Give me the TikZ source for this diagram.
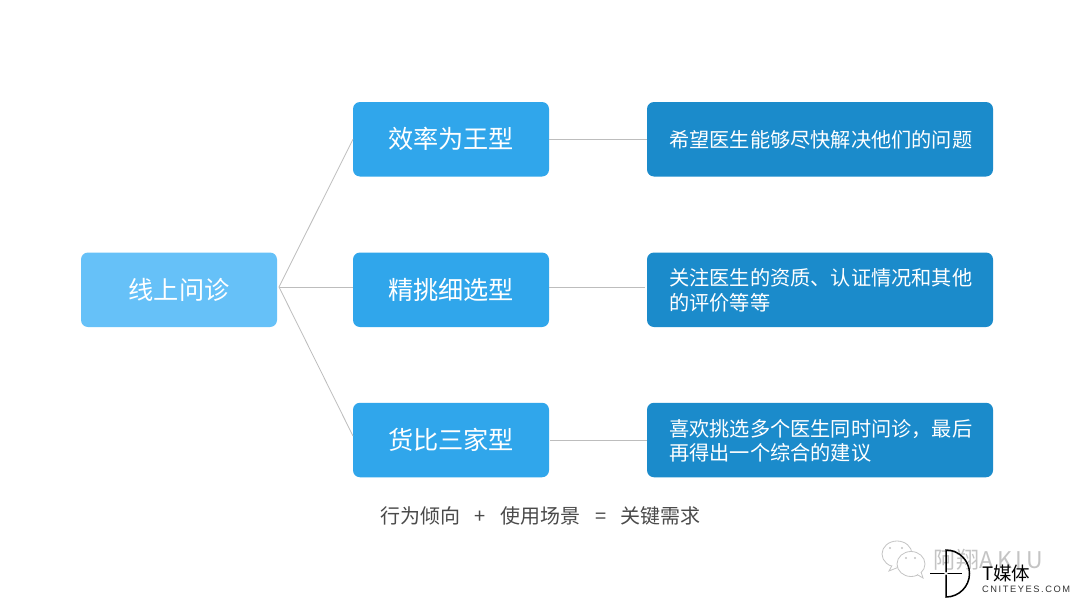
\documentclass[tikz,border=0pt]{standalone}
\usepackage{fontspec}
\setmainfont{Noto Sans CJK SC}
\newfontfamily\latinwm{Liberation Sans}
\definecolor{rootblue}{HTML}{66C1F8}
\definecolor{midblue}{HTML}{30A6EB}
\definecolor{deepblue}{HTML}{1B8BCB}
\definecolor{linegray}{HTML}{BDBDBD}
\definecolor{captiontext}{HTML}{4A4A4A}
\definecolor{wmgray}{HTML}{C4C4C4}
\tikzset{
  x=1pt,y=-1pt,
  box/.style={rounded corners=7pt,inner sep=0pt,outer sep=0pt,text=white},
  rootbox/.style={box,fill=rootblue,minimum width=196pt,minimum height=74.5pt,font=\fontsize{25.2}{25}\selectfont},
  midbox/.style={box,fill=midblue,minimum width=196pt,minimum height=74.5pt,font=\fontsize{25.2}{25}\selectfont},
  deepbox/.style={box,fill=deepblue,minimum width=346pt,minimum height=74.5pt},
  bodytext/.style={text=white,inner sep=0pt,anchor=west,align=left,font=\fontsize{20.2}{24.5}\selectfont},
  link/.style={draw=linegray,line width=0.8pt},
  bubble/.style={draw=wmgray,line width=0.8pt,fill=white},
}
\begin{document}
\begin{tikzpicture}
\useasboundingbox (0,0) rectangle (1080,608);
\fill[white] (0,0) rectangle (1080,608);
\coordinate (hub) at (279,287);
\node[rootbox] (root) at (179,289.75) {\raisebox{-0.7pt}{线上问诊}};
\node[midbox] (m1) at (451,139.25) {\raisebox{-0.7pt}{效率为王型}};
\node[midbox] (m2) at (451,289.75) {\raisebox{-0.7pt}{精挑细选型}};
\node[midbox] (m3) at (451,440) {\raisebox{-0.7pt}{货比三家型}};
\node[deepbox] (r1) at (820,139.25) {};
\node[deepbox] (r2) at (820,289.75) {};
\node[deepbox] (r3) at (820,440) {};
\node[bodytext] (t1) at (669,140) {希望医生能够尽快解决他们的问题};
\node[bodytext] (t2) at (669,290.5) {关注医生的资质、认证情况和其他\\的评价等等};
\node[bodytext] (t3) at (669,440.75) {喜欢挑选多个医生同时问诊，最后\\再得出一个综合的建议};
\draw[link] (hub) -- (m1.west);
\draw[link] (hub) -- (m2.west |- hub);
\draw[link] (hub) -- ([yshift=4pt]m3.west);
\draw[link] (m1.east) -- (r1.west);
\draw[link,shorten >=2pt] (m2.east |- hub) -- (r2.west |- hub);
\draw[link,shorten <=1pt] (m3.east) -- (r3.west);
\node[text=captiontext,inner sep=0pt,anchor=west,font=\fontsize{20}{20}\selectfont] (cap) at (380,516) {行为倾向\hspace{14.6pt}+\hspace{14.6pt}使用场景\hspace{14.6pt}=\hspace{14.6pt}关键需求};
% watermark
\draw[bubble] (897,554) ellipse (15 and 13);
\draw[bubble] (892,565.5) -- (889,571) -- (899,567);
\draw[bubble] (911,564) ellipse (14 and 12.5);
\draw[bubble] (917,574.5) -- (923,578) -- (921,572);
\fill[wmgray] (890,548) circle (1.2) (902,548) circle (1.2) (906,558) circle (1.2) (915,558) circle (1.2);
\node[text=wmgray,inner sep=0pt,anchor=west,font=\fontsize{23}{23}\selectfont] (wm) at (933,560) {阿翔A\,K\,I\,U};
\coordinate (logo) at (946,573.5);
\draw[black,line width=1.5pt] (946,550) arc[start angle=-90,end angle=90,radius=23.5] -- cycle;
\draw[black,line width=1.5pt] (930,573.5) -- (962,573.5);
\fill[white] (logo) circle (1.6);
\node[text=black,inner sep=0pt,anchor=west,font=\fontsize{18.5}{19}\selectfont] (tm) at (982,573) {T媒体};
\node[text=black!80,inner sep=0pt,anchor=west,font=\latinwm\fontsize{9.3}{10}\selectfont] (cn) at (982,589) {C\,N\,I\,T\,E\,Y\,E\,S\,.\,C\,O\,M};
\end{tikzpicture}
\end{document}
